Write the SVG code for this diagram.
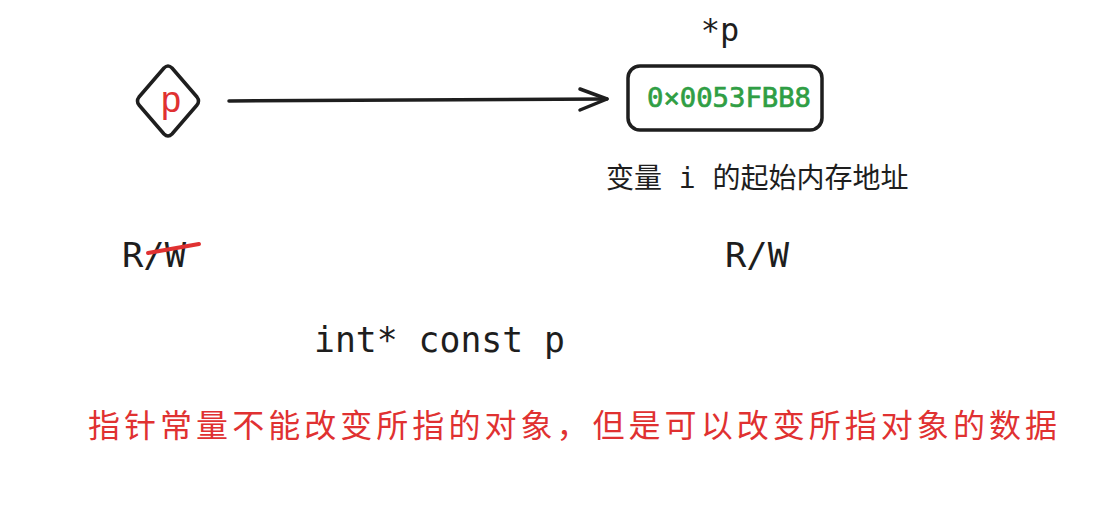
<svg xmlns="http://www.w3.org/2000/svg" width="1105" height="517" viewBox="0 0 1105 517">
<style>
.stroke{fill:none;stroke:#1e1e1e;stroke-width:3.5;stroke-linecap:round;stroke-linejoin:round}
.mono{font-family:"DejaVu Sans Mono","Liberation Mono",monospace;fill:#1e1e1e}
.cjk{font-family:"DejaVu Sans Mono","Noto Sans CJK SC",sans-serif;fill:#1e1e1e}
.red{fill:#e03131}
</style>
<rect width="1105" height="517" fill="#ffffff"/>
<g id="node-p">
<path class="stroke" d="M164,68 Q168,64 172,68 L197,97 Q200,101 197,105 L172,134 Q168,138 164,134 L139,105 Q136,101 139,97 Z"/>
<text x="171" y="112" text-anchor="middle" font-family="Liberation Sans, sans-serif" font-size="36" class="red">p</text>
</g>
<g id="connectors">
<path class="stroke" d="M229,101 L607,99"/>
<path class="stroke" d="M580,89 L607,99 L580,110"/>
</g>
<g id="node-addr">
<rect class="stroke" x="628" y="66" width="194" height="64" rx="12"/>
<text x="647" y="107" class="mono" font-size="27" style="fill:#2f9e44;stroke:#2f9e44;stroke-width:0.7" textLength="164" lengthAdjust="spacingAndGlyphs">0×0053FBB8</text>
</g>
<text x="720" y="41" class="mono" font-size="32" text-anchor="middle">*p</text>
<text x="606" y="188" class="cjk" font-size="28">变量 i 的起始内存地址</text>
<g id="rw-left">
<text x="122" y="267" class="mono" font-size="34" textLength="64" lengthAdjust="spacingAndGlyphs">R/W</text>
<path d="M148,253 L199,244" stroke="#e03131" stroke-width="4" stroke-linecap="round" fill="none"/>
</g>
<text x="725" y="267" class="mono" font-size="34" textLength="64" lengthAdjust="spacingAndGlyphs">R/W</text>
<text x="314" y="352" class="mono" font-size="35" textLength="251" lengthAdjust="spacingAndGlyphs">int* const p</text>
<text x="88" y="437" font-family="Noto Sans CJK SC, sans-serif" font-size="32" class="red" textLength="969" lengthAdjust="spacing">指针常量不能改变所指的对象，但是可以改变所指对象的数据</text>
</svg>
